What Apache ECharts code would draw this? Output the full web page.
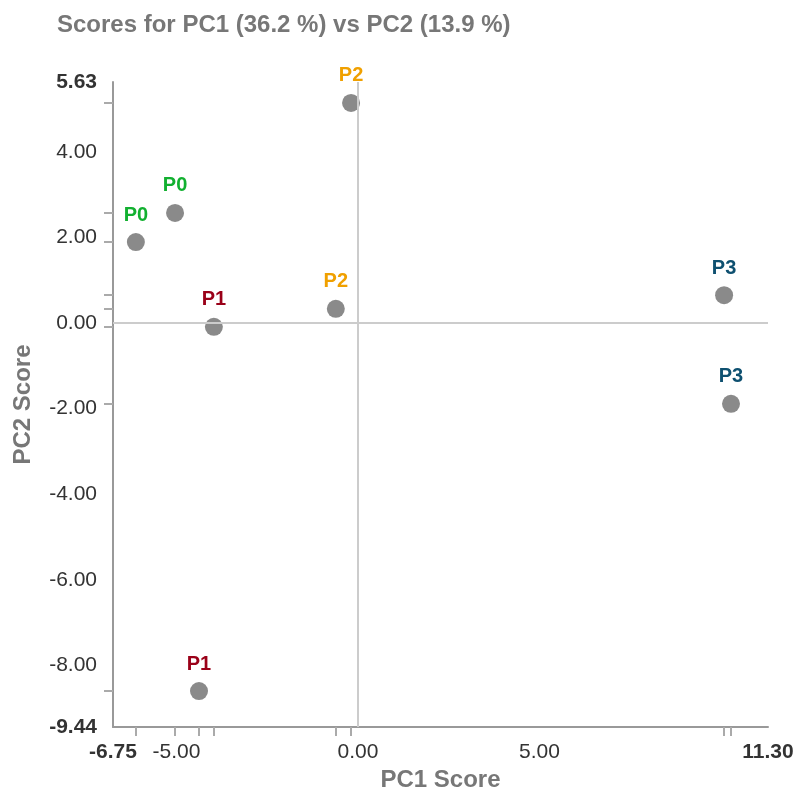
<!DOCTYPE html>
<html>
<head>
<meta charset="utf-8">
<script src="https://cdn.jsdelivr.net/npm/echarts@6/dist/echarts.min.js"></script>
<style>
  html, body { margin: 0; padding: 0; background: #fff; }
  #main { width: 795px; height: 791px; }
</style>
</head>
<body>
<div id="main"></div>
<script>
// sample groups and their label colours
var groups = ['P0', 'P1', 'P2', 'P3'];
var groupColors = ['#12b030', '#9a0018', '#f0a000', '#0e5070'];

// one entry per sample
var sampleGroup = ['P0', 'P0', 'P1', 'P1', 'P2', 'P2', 'P3', 'P3'];
var pc1Scores = [-6.12, -5.04, -3.97, -4.38, -0.19, -0.61, 10.09, 10.28];
var pc2Scores = [1.89, 2.57, -0.09, -8.60, 5.14, 0.33, 0.65, -1.89];

// axis extents and label values
var xMin = -6.75, xMax = 11.30;
var yMin = -9.44, yMax = 5.63;
var xLabels = [-6.75, -5.00, 0.00, 5.00, 11.30];
var yLabels = [5.63, 4.00, 2.00, 0.00, -2.00, -4.00, -6.00, -8.00, -9.44];

var FONT = '"Liberation Sans", Arial, sans-serif';

function fmtLabel(min, max) {
  return function (v) {
    var s = v.toFixed(2);
    if (Math.abs(v - min) < 1e-6 || Math.abs(v - max) < 1e-6) return '{b|' + s + '}';
    return s;
  };
}

var series = groups.map(function (g, gi) {
  var pts = [];
  for (var i = 0; i < sampleGroup.length; i++) {
    if (sampleGroup[i] === g) pts.push([pc1Scores[i], pc2Scores[i]]);
  }
  return {
    name: g,
    type: 'scatter',
    data: pts,
    symbolSize: 18,
    itemStyle: { color: '#8a8a8a', opacity: 1 },
    label: {
      show: true,
      position: 'top',
      distance: 8,
      formatter: g,
      color: groupColors[gi],
      fontFamily: FONT,
      fontWeight: 'bold',
      fontSize: 20
    },
    z: 3
  };
});

// zero cross lines
series.push({
  type: 'scatter',
  data: [],
  silent: true,
  markLine: {
    silent: true,
    symbol: 'none',
    label: { show: false },
    lineStyle: { color: '#cccccc', width: 2, type: 'solid', opacity: 1 },
    data: [{ xAxis: 0 }, { yAxis: 0 }]
  },
  z: 1
});

var myChart = echarts.init(document.getElementById('main'));
myChart.setOption({
  animation: false,
  title: {
    text: 'Scores for PC1 (36.2 %) vs PC2 (13.9 %)',
    left: 52,
    top: 8,
    textStyle: { color: '#777777', fontFamily: FONT, fontWeight: 'bold', fontSize: 24 }
  },
  grid: { left: 113, right: 27, top: 82, bottom: 64, containLabel: false, outerBoundsMode: 'none' },
  xAxis: {
    type: 'value',
    min: xMin,
    max: xMax,
    name: 'PC1 Score',
    nameLocation: 'middle',
    nameGap: 40,
    nameTextStyle: { color: '#777777', fontFamily: FONT, fontWeight: 'bold', fontSize: 24 },
    axisLine: { onZero: false, lineStyle: { color: '#999999', width: 2 } },
    axisTick: { show: true, length: 9, customValues: pc1Scores, lineStyle: { color: '#aaaaaa', width: 2 } },
    axisLabel: {
      customValues: xLabels,
      margin: 15,
      color: '#333333',
      fontFamily: FONT,
      fontSize: 21,
      formatter: fmtLabel(xMin, xMax),
      rich: { b: { fontWeight: 'bold', fontSize: 21, fontFamily: FONT, color: '#333333' } }
    },
    splitLine: { show: false }
  },
  yAxis: {
    type: 'value',
    min: yMin,
    max: yMax,
    name: 'PC2 Score',
    nameLocation: 'middle',
    nameGap: 78,
    nameTextStyle: { color: '#777777', fontFamily: FONT, fontWeight: 'bold', fontSize: 24 },
    axisLine: { onZero: false, lineStyle: { color: '#999999', width: 2 } },
    axisTick: { show: true, length: 9, customValues: pc2Scores, lineStyle: { color: '#aaaaaa', width: 2 } },
    axisLabel: {
      customValues: yLabels,
      margin: 16,
      color: '#333333',
      fontFamily: FONT,
      fontSize: 21,
      formatter: fmtLabel(yMin, yMax),
      rich: { b: { fontWeight: 'bold', fontSize: 21, fontFamily: FONT, color: '#333333' } }
    },
    splitLine: { show: false }
  },
  series: series
});
</script>
</body>
</html>
